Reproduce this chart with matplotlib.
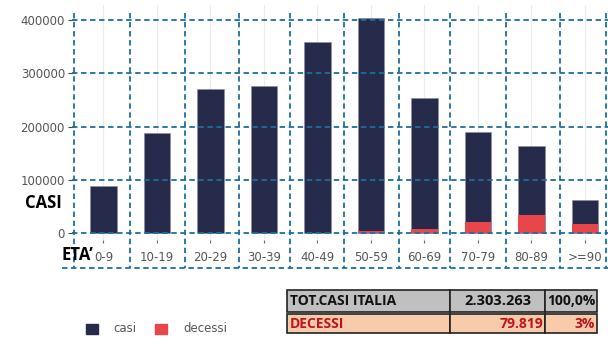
import matplotlib
matplotlib.use("Agg")
import matplotlib.pyplot as plt
from matplotlib.patches import Rectangle
import matplotlib.transforms as mtransforms

categories = ["0-9", "10-19", "20-29", "30-39", "40-49", "50-59", "60-69", "70-79", "80-89", ">=90"]
casi = [88000, 187000, 270000, 277000, 359000, 404000, 253000, 189000, 163000, 63000]
decessi = [0, 10, 40, 200, 900, 4400, 8800, 20600, 34000, 17000]
yticks = [0, 100000, 200000, 300000, 400000]
table_rows = [["TOT.CASI ITALIA", "2.303.263", "100,0%"],
              ["DECESSI", "79.819", "3%"]]

W, H = 608, 351
fig = plt.figure(figsize=(W / 100, H / 100), dpi=100)

NAVY = "#272b4b"
RED = "#e8464a"
DASH = "#1d6e9e"
GRAYTXT = "#555555"
DLS = (0, (3, 2))

left_px, right_px = 74, 608
top_px, bottom_px = 5, 239.6
ax = fig.add_axes([left_px / W, 1 - bottom_px / H, (right_px - left_px) / W, (bottom_px - top_px) / H])
x = list(range(len(categories)))
ax.set_xlim(-0.55, 9.43)
ax.set_ylim(-12000, 428000)

for s in ax.spines.values():
    s.set_visible(False)
ax.set_facecolor("white")

for xi in x:
    ax.axvline(xi, color="#ececec", lw=0.8, zorder=0)

ax.bar(x, casi, width=0.49, color=NAVY, edgecolor="#8a8ca0", linewidth=0.4, zorder=2)
ax.bar(x, decessi, width=0.49, color=RED, zorder=3)

ax.set_yticks(yticks)
ax.set_yticklabels([str(v) for v in yticks], color=GRAYTXT, fontsize=8.5)
ax.set_xticks(x)
ax.set_xticklabels(categories, color=GRAYTXT, fontsize=8.5)
ax.tick_params(axis="y", length=4, width=0.8, color="#444444", pad=2.5)
ax.tick_params(axis="x", length=2.5, width=0.8, color="#666666", pad=6)

def fx(px):
    return px / W

def fy(py):
    return 1 - py / H

trans_h = mtransforms.blended_transform_factory(fig.transFigure, ax.transData)
for v in yticks:
    ax.plot([fx(72), fx(608)], [v, v], transform=trans_h, color=DASH, lw=1.3,
            linestyle=DLS, zorder=6, clip_on=False)

vx = [74, 130, 185, 239, 290, 344, 399, 450, 506, 560, 606]
for px in vx:
    ax.plot([fx(px), fx(px)], [fy(13), fy(268)], transform=fig.transFigure, color=DASH,
            lw=1.3, linestyle=DLS, zorder=6, clip_on=False)
ax.plot([fx(62), fx(608)], [fy(268), fy(268)], transform=fig.transFigure, color=DASH,
        lw=1.3, linestyle=DLS, zorder=6, clip_on=False)

# annotations
fig.text(fx(43), fy(203), "CASI", fontsize=12, fontweight="bold", family="Open Sans",
         ha="center", va="center", color="black")
fig.text(fx(61), fy(255), "ETA\u2019", fontsize=12, fontweight="bold", family="Open Sans",
         ha="left", va="center", color="black")

# legend
fig.add_artist(Rectangle((fx(86), fy(334)), fx(11.5), 10 / H, color=NAVY))
fig.text(fx(113), fy(329), "casi", fontsize=8.5, color=GRAYTXT, va="center", ha="left")
fig.add_artist(Rectangle((fx(155), fy(334)), fx(12), 10 / H, color=RED))
fig.text(fx(183), fy(329), "decessi", fontsize=8.5, color=GRAYTXT, va="center", ha="left")

# table
cols = [287, 450, 545, 597]
rows = [(290, 312), (314, 333)]
bgs = ["#c0c0c0", "#f8cbad"]
txtcol = ["#111111", "#c0141c"]
for r, (y0, y1) in enumerate(rows):
    for c in range(3):
        x0, x1 = cols[c], cols[c + 1]
        fig.add_artist(Rectangle((fx(x0), fy(y1)), fx(x1 - x0), (y1 - y0) / H,
                                 facecolor=bgs[r], edgecolor="#222222", lw=1.2))
        txt = table_rows[r][c]
        yc = fy((y0 + y1) / 2)
        if c == 0:
            fig.text(fx(x0 + 3), yc, txt, ha="left", va="center", fontsize=10,
                     fontweight="bold", family="Open Sans", color=txtcol[r])
        elif r == 0 and c == 1:
            fig.text(fx((x0 + x1) / 2), yc, txt, ha="center", va="center", fontsize=10.5,
                     fontweight="bold", family="Open Sans", color=txtcol[r])
        else:
            fig.text(fx(x1 - 2), yc, txt, ha="right", va="center", fontsize=10,
                     fontweight="bold", family="Open Sans", color=txtcol[r])

fig.savefig("out.png", dpi=100)
